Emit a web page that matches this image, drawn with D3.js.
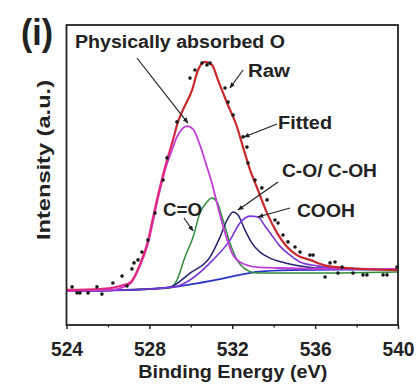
<!DOCTYPE html>
<html>
<head>
<meta charset="utf-8">
<script src="https://cdn.jsdelivr.net/npm/d3@7"></script>
<style>
  body { margin: 0; background: #fff; }
  svg text { font-family: "Liberation Sans Narrow", "Liberation Sans", Arial, sans-serif; font-weight: bold; fill: #222; }
</style>
</head>
<body>
<svg width="417" height="387"></svg>
<script>
// O 1s XPS spectrum with fitted components

// binding energy (eV) / intensity (a.u.)
var rawE = [524.27, 524.51, 524.65, 525.04, 525.47, 525.71, 526.24, 526.68, 526.92, 527.16, 527.26, 527.45,
            527.64, 527.93, 528.27, 528.66, 528.85, 529.33, 529.96, 530.2, 530.54, 530.78, 530.93, 531.65,
            531.8, 532.04, 532.52, 532.71, 532.76, 533.1, 533.43, 533.68, 534.06, 534.21, 534.45, 534.69,
            535.03, 535.27, 535.75, 535.9, 536.48, 536.72, 536.96, 537.1, 537.3, 537.83, 538.31, 538.5,
            539.28, 539.47, 539.95];
var rawI = [12.7, 10.7, 10.7, 10.7, 12.7, 10.3, 14.0, 16.3, 13.0, 18.7, 20.7, 21.7,
            24.3, 28.3, 37.3, 48.3, 55.7, 67.7, 82.3, 85.0, 87.3, 86.7, 87.3, 79.0,
            74.3, 70.0, 62.7, 59.3, 54.0, 48.3, 45.7, 41.7, 35.0, 34.0, 30.0, 27.7,
            26.0, 24.3, 23.3, 23.3, 16.0, 20.7, 21.0, 17.3, 19.3, 17.3, 16.7, 16.7,
            16.7, 16.7, 19.3];

var fitE = [524.0, 525.6, 526.6, 527.1, 527.55, 527.93, 528.13, 528.42, 528.76, 529.14, 529.38, 529.62, 530.06,
            530.35, 530.68, 531.02, 531.31, 531.75, 532.23, 532.52, 532.86, 533.24, 533.68, 534.16, 534.65,
            535.12, 535.75, 536.57, 537.54, 540.0];
var fitI = [11.7, 12.0, 13.0, 14.3, 20.3, 28.0, 34.3, 43.3, 52.7, 61.7, 67.7, 71.7, 78.3,
            85.0, 87.7, 86.7, 81.7, 74.0, 66.0, 59.3, 51.7, 45.0, 37.3, 30.7, 26.0,
            23.3, 21.7, 19.7, 19.0, 18.3];

var bgE = [524.0, 526.1, 528.0, 529.2, 530.4, 531.4, 532.4, 533.3, 534.8, 537.2, 540.0];
var bgI = [11.3, 11.5, 12.0, 12.7, 14.0, 15.3, 16.8, 17.8, 18.3, 18.5, 18.5];

var physE = [524.0, 526.1, 527.06, 527.55, 527.93, 528.42, 528.76, 529.09, 529.33, 529.57, 529.82, 530.11,
             530.44, 530.78, 531.02, 531.26, 531.65, 531.99, 532.37, 533.19, 534.3, 537.2, 540.0];
var physI = [11.3, 11.7, 13.7, 19.7, 27.0, 42.3, 51.7, 58.3, 62.7, 65.3, 66.3, 65.3,
             60.0, 52.7, 47.3, 40.7, 30.7, 24.0, 21.0, 19.3, 19.0, 18.7, 18.7];

var coE = [524.0, 528.03, 529.0, 529.33, 529.72, 530.11, 530.44, 530.78, 531.02, 531.26, 531.55, 531.89,
           532.23, 532.71, 533.19, 535.27, 540.0];
var coI = [11.3, 12.0, 12.3, 15.0, 22.7, 29.3, 37.3, 41.0, 42.3, 41.0, 35.0, 27.3,
           21.7, 18.3, 17.3, 17.3, 17.7];

var cohE = [524.0, 528.03, 529.0, 529.96, 530.93, 531.41, 531.75, 532.04, 532.28, 532.61, 532.95, 533.34,
            533.82, 534.55, 535.27, 536.23, 540.0];
var cohI = [11.3, 12.0, 12.7, 17.3, 22.7, 29.3, 35.0, 37.7, 36.7, 31.7, 27.3, 24.3,
            22.3, 20.7, 19.7, 19.0, 18.7];

var coohE = [524.0, 528.03, 529.24, 529.96, 531.07, 531.89, 532.37, 532.86, 533.24, 533.58, 533.97, 534.3,
             534.79, 535.27, 536.09, 537.2, 540.0];
var coohI = [11.3, 12.0, 12.7, 15.0, 21.7, 28.3, 34.0, 36.3, 36.0, 33.0, 29.3, 26.3,
             23.3, 21.0, 19.7, 19.0, 18.7];

var majorTicks = [524, 528, 532, 536, 540];
var minorTicks = [526, 530, 534, 538];

// label text, anchor point (eV, a.u.), pointer from -> to
var labels = ["Physically absorbed O", "Raw", "Fitted", "C-O/ C-OH", "COOH", "C=O"];
var labelE = [524.41, 532.76, 534.21, 534.4, 535.12, 528.66];
var labelI = [92.3, 82.7, 65.3, 49.3, 36.0, 36.3];
var labelLen = [210, 42, 54, 95, 58, 39];
var arrowFrom = [[527.4, 89.0], [532.52, 85.0], [534.16, 67.0], [534.21, 47.67], [534.79, 39.0], [529.67, 35.67]];
var arrowTo = [[529.86, 67.3], [531.89, 79.0], [532.57, 62.67], [532.28, 38.33], [533.24, 36.0], [530.11, 31.33]];

const margin = {top: 25, right: 19, bottom: 62, left: 66.5};
const width = 417 - margin.left - margin.right;
const height = 387 - margin.top - margin.bottom;

var svg = d3.select("svg").append("g")
    .attr("transform", "translate(" + margin.left + "," + margin.top + ")");

var x = d3.scaleLinear().domain([524, 540]).range([0, width]);
var y = d3.scaleLinear().domain([0, 100]).range([height, 0]);

var defs = svg.append("defs");
defs.append("marker")
    .attr("id", "head")
    .attr("viewBox", "0 0 10 10")
    .attr("refX", 9).attr("refY", 5)
    .attr("markerWidth", 5).attr("markerHeight", 5)
    .attr("orient", "auto")
  .append("path")
    .attr("d", "M0,1L10,5L0,9z")
    .attr("fill", "#222");

// fitted line is pink where it sits on the big component
var grad = defs.append("linearGradient")
    .attr("id", "fitgrad")
    .attr("gradientUnits", "userSpaceOnUse")
    .attr("x1", x(524)).attr("x2", x(540)).attr("y1", 0).attr("y2", 0);
grad.append("stop").attr("offset", (x(528.9) / width)).attr("stop-color", "#e3287e");
grad.append("stop").attr("offset", (x(529.3) / width)).attr("stop-color", "#c8282c");

var line = d3.line()
    .x(d => x(d[0]))
    .y(d => y(d[1]))
    .curve(d3.curveMonotoneX);

function pairs(e, i) { return e.map((v, k) => [v, i[k]]); }

var curves = [
  {e: bgE, i: bgI, color: "#2c36c6", w: 1.8},
  {e: coE, i: coI, color: "#2e8c3a", w: 1.5},
  {e: cohE, i: cohI, color: "#25226e", w: 1.5},
  {e: coohE, i: coohI, color: "#7a36d8", w: 1.6},
  {e: physE, i: physI, color: "#c23cd8", w: 1.8},
  {e: fitE, i: fitI, color: "url(#fitgrad)", w: 2.2}
];

svg.selectAll("path.curve").data(curves)
  .enter().append("path")
    .attr("class", "curve")
    .attr("d", d => line(pairs(d.e, d.i)))
    .attr("fill", "none")
    .attr("stroke", d => d.color)
    .attr("stroke-width", d => d.w);

svg.selectAll("circle").data(pairs(rawE, rawI))
  .enter().append("circle")
    .attr("cx", d => x(d[0]))
    .attr("cy", d => y(d[1]))
    .attr("r", 1.8)
    .attr("fill", "#1a1a1a");

// axes
var xAxis = d3.axisBottom(x).tickValues(majorTicks).tickSize(4).tickPadding(12);
var xG = svg.append("g")
    .attr("transform", "translate(0," + height + ")")
    .call(xAxis);
xG.select(".domain").remove();
xG.selectAll("line").attr("stroke", "#222").attr("stroke-width", 1.5);
xG.selectAll("text")
    .attr("font-size", 21)
    .attr("font-family", null)
    .attr("textLength", 32)
    .attr("lengthAdjust", "spacingAndGlyphs")
    .attr("fill", "#222");

var xMinor = svg.append("g")
    .attr("transform", "translate(0," + height + ")")
    .call(d3.axisBottom(x).tickValues(minorTicks).tickSize(2.5).tickFormat(""));
xMinor.select(".domain").remove();
xMinor.selectAll("line").attr("stroke", "#222").attr("stroke-width", 1.3);

svg.append("rect")
    .attr("width", width).attr("height", height)
    .attr("fill", "none")
    .attr("stroke", "#222")
    .attr("stroke-width", 1.8);

svg.append("text")
    .attr("x", width / 2 + 0.5)
    .attr("y", 378 - margin.top)
    .attr("text-anchor", "middle")
    .attr("font-size", 19)
    .attr("textLength", 189)
    .attr("lengthAdjust", "spacingAndGlyphs")
    .text("Binding Energy (eV)");

svg.append("text")
    .attr("transform", "translate(" + (50 - margin.left) + "," + (160 - margin.top) + ") rotate(-90)")
    .attr("text-anchor", "middle")
    .attr("font-size", 19)
    .attr("textLength", 160)
    .attr("lengthAdjust", "spacingAndGlyphs")
    .text("Intensity (a.u.)");

svg.append("text")
    .attr("x", 21 - margin.left)
    .attr("y", 45 - margin.top)
    .attr("font-size", 36)
    .attr("textLength", 32)
    .attr("lengthAdjust", "spacingAndGlyphs")
    .text("(i)");

// annotations
svg.selectAll("line.arrow").data(arrowFrom)
  .enter().append("line")
    .attr("class", "arrow")
    .attr("x1", d => x(d[0])).attr("y1", d => y(d[1]))
    .attr("x2", (d, k) => x(arrowTo[k][0])).attr("y2", (d, k) => y(arrowTo[k][1]))
    .attr("stroke", "#222")
    .attr("stroke-width", 1.2)
    .attr("marker-end", "url(#head)");

svg.selectAll("text.lab").data(labels)
  .enter().append("text")
    .attr("class", "lab")
    .attr("x", (d, k) => x(labelE[k]))
    .attr("y", (d, k) => y(labelI[k]))
    .attr("font-size", 18)
    .attr("textLength", (d, k) => labelLen[k])
    .attr("lengthAdjust", "spacingAndGlyphs")
    .text(d => d);
</script>
</body>
</html>
